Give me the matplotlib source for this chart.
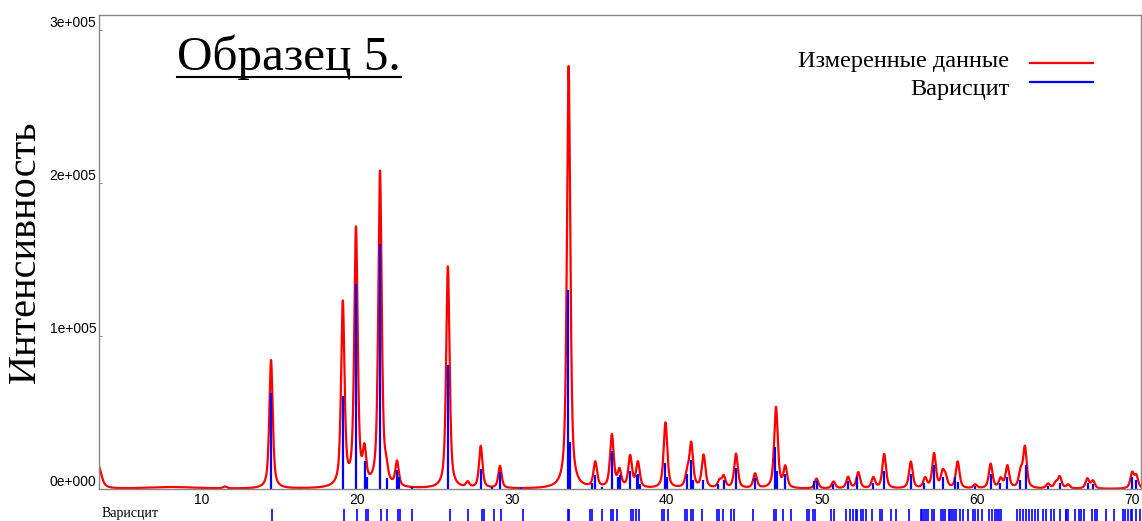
import matplotlib
matplotlib.use("Agg")
import matplotlib.pyplot as plt
import numpy as np
from matplotlib.ticker import FuncFormatter
from matplotlib.transforms import ScaledTranslation

# measured pattern: peak positions (2theta), heights (counts), FWHM (deg)
meas_pos = [3.3, 8.0, 11.5, 14.47, 19.10, 19.95, 20.50, 21.50, 21.90, 22.60, 25.88, 27.16,
            28.00, 29.24, 33.67, 35.39, 36.46, 36.95, 37.64, 38.14, 39.92, 41.32,
            41.58, 42.38, 43.40, 43.67, 44.47, 45.70, 47.05, 47.65, 49.66, 50.76,
            51.70, 52.36, 53.33, 54.03, 55.75, 56.67, 57.25, 57.80, 57.99, 58.77,
            59.90, 60.90, 61.55, 61.98, 62.83, 63.11, 64.60, 65.10, 65.36, 65.90,
            67.14, 67.50, 70.03, 70.30]
meas_int = [16000, 1200, 1200, 84000, 120000, 168000, 21000, 206000, 8000, 16000, 145000, 3500,
            27500, 14500, 276000, 16500, 34500, 11000, 20500, 16500, 43000, 9000,
            28500, 21500, 4500, 7500, 22500, 9500, 53000, 13500, 6500, 4500,
            7500, 10500, 7000, 22500, 17500, 6500, 22500, 9500, 6500, 17500,
            2500, 16000, 6000, 14500, 10000, 26500, 3000, 3500, 7500, 2500,
            6500, 5000, 10000, 8000]
meas_fwhm = [0.5, 4.0, 0.3, 0.26, 0.26, 0.26, 0.26, 0.26, 0.26, 0.26, 0.26, 0.26,
             0.26, 0.26, 0.26, 0.28, 0.28, 0.28, 0.28, 0.28, 0.28, 0.28,
             0.28, 0.28, 0.28, 0.28, 0.28, 0.28, 0.28, 0.28, 0.28, 0.28,
             0.28, 0.28, 0.28, 0.28, 0.28, 0.28, 0.28, 0.28, 0.28, 0.28,
             0.28, 0.28, 0.28, 0.28, 0.28, 0.28, 0.28, 0.28, 0.28, 0.28,
             0.28, 0.28, 0.28, 0.28]

# variscite reference sticks
ref_pos = [14.47, 19.10, 19.95, 20.55, 20.65, 21.50, 21.92, 22.60, 22.70, 23.56, 25.88,
           28.00, 28.70, 29.24, 30.60, 33.60, 33.75, 35.20, 35.35, 35.85, 36.46, 36.85,
           36.98, 37.64, 38.05, 38.14, 38.25, 39.88, 40.00, 41.32, 41.55, 41.70, 42.35,
           43.30, 43.67, 44.45, 45.68, 47.00, 47.10, 47.60, 49.50, 49.70, 50.70, 51.70,
           52.30, 53.30, 54.00, 55.75, 56.60, 57.25, 57.80, 58.60, 58.80, 59.90, 60.90,
           61.50, 61.95, 62.80, 63.15, 64.60, 65.40, 67.20, 67.50, 70.00, 70.30]
ref_int = [63000, 61000, 134000, 18000, 8000, 160000, 7000, 12500, 8000, 1000, 81000,
           13000, 1000, 11000, 1000, 130000, 31000, 4000, 9000, 1000, 24500, 8000,
           9000, 12000, 9000, 10000, 3000, 16800, 8000, 10000, 19000, 6000, 6000,
           3000, 6000, 14000, 7000, 27600, 12000, 10000, 5000, 5000, 3000, 5000,
           8000, 4000, 12000, 10000, 4000, 15500, 8000, 8000, 4500, 2000, 10000,
           4000, 8000, 6000, 15500, 2000, 4000, 4000, 3000, 8000, 6000]

# reflection markers in the strip under the axis
hkl_pos = [14.50, 19.18, 20.02, 20.62, 20.73, 21.56, 21.98, 22.69, 22.82, 23.56, 26.01,
           27.21, 28.11, 28.21, 28.83, 29.31, 30.72, 33.60, 33.72, 35.08, 35.20, 35.80,
           36.40, 36.52, 36.76, 37.67, 37.84, 38.03, 38.20, 39.71, 39.83, 40.07, 41.20,
           41.32, 41.56, 41.68, 42.28, 43.24, 43.36, 43.60, 44.15, 44.32, 45.59, 46.95,
           47.07, 47.50, 48.03, 49.06, 49.18, 49.42, 49.54, 50.62, 50.79, 51.58, 51.82,
           51.99, 52.18, 52.30, 52.54, 52.66, 52.83, 53.26, 53.79, 53.91, 54.46, 54.82,
           55.66, 56.38, 56.50, 56.62, 56.74, 56.86, 57.10, 57.22, 57.70, 57.82, 57.94,
           58.18, 58.30, 58.42, 58.54, 58.66, 58.90, 59.13, 59.42, 59.78, 59.90, 60.09,
           60.33, 60.81, 60.98, 61.17, 61.29, 61.46, 61.58, 62.61, 62.78, 62.97, 63.21,
           63.38, 63.57, 63.74, 63.93, 64.29, 64.46, 64.82, 65.01, 65.37, 65.73, 65.78,
           65.90, 66.33, 66.57, 66.74, 66.93, 67.41, 67.65, 67.77, 68.37, 68.85, 69.45,
           69.57, 69.74, 69.93, 70.05, 70.29, 70.53]

x_ticks = [10, 20, 30, 40, 50, 60, 70]
y_ticks = [0, 100000, 200000, 300000]
legend_labels = ["Измеренные данные", "Варисцит"]


def pseudo_voigt(x, c, h, w, eta=0.65):
    g = np.exp(-4 * np.log(2) * (x - c) ** 2 / w ** 2)
    l = 1 / (1 + 4 * (x - c) ** 2 / w ** 2)
    return h * (eta * l + (1 - eta) * g)


tt = np.arange(3.0, 71.0, 0.01)
profile = np.zeros_like(tt)
for c, h, w in zip(meas_pos, meas_int, meas_fwhm):
    profile += pseudo_voigt(tt, c, h, w)

serif = "Liberation Serif"
sans = "Liberation Sans"
W, H = 1142, 521

fig = plt.figure(figsize=(W / 100, H / 100), dpi=100)
ax = fig.add_axes([99 / W, 1 - 489 / H, 1042 / W, 474.5 / H])

ax.plot(tt, profile, color="#ff0000", lw=1.6)
ax.vlines(ref_pos, 0, ref_int, color="#0000ff", lw=1.6)

ax.set_xlim(3.37, 70.6)
ax.set_ylim(0, 3.1e5)
ax.set_xticks(x_ticks)
ax.set_yticks(y_ticks)
ax.yaxis.set_major_formatter(FuncFormatter(
    lambda v, p: "0e+000" if v == 0 else "%de+005" % round(v / 1e5)))
ax.tick_params(axis="x", length=0, pad=3, labelsize=10)
ax.tick_params(axis="y", length=2, direction="in", pad=2, labelsize=10, color="#888888")
for lab in ax.get_xticklabels() + ax.get_yticklabels():
    lab.set_fontfamily(sans)
for lab in ax.get_yticklabels():
    lab.set_transform(lab.get_transform() + ScaledTranslation(0, 8 / 100, fig.dpi_scale_trans))
for s in ax.spines.values():
    s.set_color("#888888")
    s.set_linewidth(1.0)

ax.set_ylabel("Интенсивность", fontsize=29, family=serif)
ax.yaxis.set_label_coords(-0.053, 0.5)

# legend drawn by hand: labels right-aligned, line samples to the right
fig.text(1009 / W, 1 - 67 / H, legend_labels[0], fontsize=17.5, family=serif,
         ha="right", va="baseline")
fig.text(1009 / W, 1 - 95 / H, legend_labels[1], fontsize=17.5, family=serif,
         ha="right", va="baseline")
fig.add_artist(plt.Line2D([1030 / W, 1093 / W], [1 - 63 / H] * 2, color="#ff0000",
                          lw=1.6, transform=fig.transFigure))
fig.add_artist(plt.Line2D([1030 / W, 1093 / W], [1 - 82 / H] * 2, color="#0000ff",
                          lw=1.6, transform=fig.transFigure))

title = fig.text(177 / W, 1 - 70 / H, "Образец 5.", fontsize=35.5, family=serif,
                 ha="left", va="baseline")
fig.canvas.draw()
bb = title.get_window_extent().transformed(fig.transFigure.inverted())
fig.add_artist(plt.Line2D([bb.x0, bb.x1], [1 - 77 / H] * 2, color="black", lw=1.5,
                          transform=fig.transFigure))

# reflection marker strip
ax2 = fig.add_axes([99 / W, 0, 1042 / W, 12 / H])
ax2.vlines(hkl_pos, 0, 1, color="#0000ff", lw=1.2)
ax2.set_xlim(3.37, 70.6)
ax2.set_ylim(0, 1)
ax2.axis("off")
fig.text(102 / W, 1 - 514 / H, "Варисцит", fontsize=10, family=serif,
         ha="left", va="center")

fig.savefig("out.png", dpi=100)
